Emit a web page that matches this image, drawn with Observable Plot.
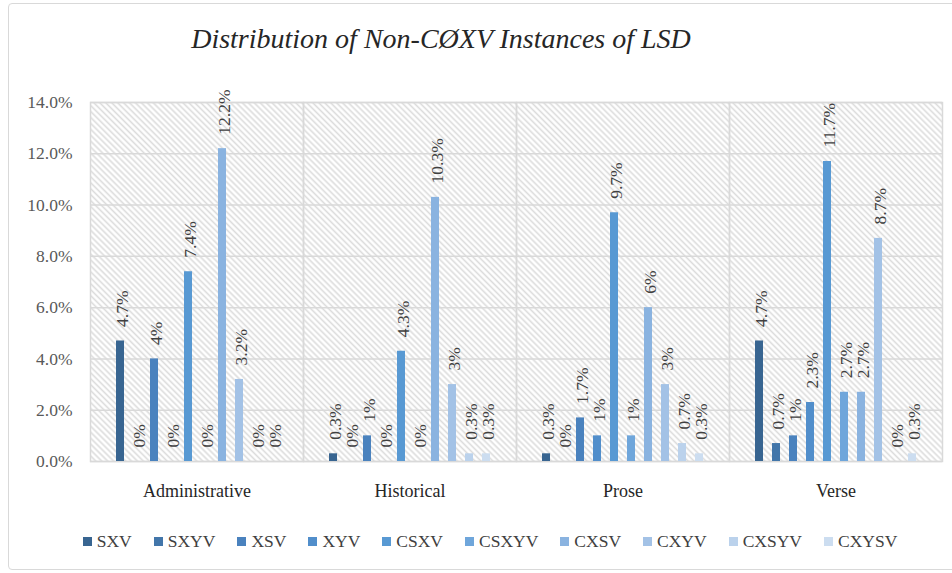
<!DOCTYPE html>
<html><head><meta charset="utf-8">
<script src="https://cdn.jsdelivr.net/npm/d3@7"></script>
<script src="https://cdn.jsdelivr.net/npm/@observablehq/plot@0.6"></script>
<style>
body{margin:0;background:#fff;}
#wrap{position:relative;width:952px;height:573px;overflow:hidden;font-family:'Liberation Serif','DejaVu Serif',serif;}
#border{position:absolute;left:8px;top:3px;width:960px;height:565px;border:1px solid #d9d9d9;border-radius:4px;}
#chart{position:absolute;left:0;top:0;}
#legend{position:absolute;top:531px;left:0;width:980px;display:flex;justify-content:center;align-items:center;font-size:17.5px;line-height:20px;color:#404040;}
.item{display:flex;align-items:center;margin:0 11px;}
.sw{width:9px;height:9px;margin-right:5px;}
</style></head>
<body><div id="wrap"><div id="border"></div><div id="chart"></div><div id="legend"></div></div>
<script>
const title = "Distribution of Non-CØXV Instances of LSD";
const categories = ["Administrative", "Historical", "Prose", "Verse"];
const series = ["SXV", "SXYV", "XSV", "XYV", "CSXV", "CSXYV", "CXSV", "CXYV", "CXSYV", "CXYSV"];
const administrative = [4.7, 0, 4, 0, 7.4, 0, 12.2, 3.2, 0, 0];
const historical = [0.3, 0, 1, 0, 4.3, 0, 10.3, 3, 0.3, 0.3];
const prose = [0.3, 0, 1.7, 1, 9.7, 1, 6, 3, 0.7, 0.3];
const verse = [4.7, 0.7, 1, 2.3, 11.7, 2.7, 2.7, 8.7, 0, 0.3];
const yTicks = [0, 2, 4, 6, 8, 10, 12, 14];
const colors = ["#386591", "#4276AA", "#4A82BE", "#518ECB", "#5899D3", "#6FA6DB", "#8AB3E0", "#A3C2E6", "#BBD2EC", "#CCDDF0"];

const valuesByCat = [administrative, historical, prose, verse];
const data = [];
categories.forEach((c, i) => series.forEach((s, j) => data.push({cat: c, series: s, value: valuesByCat[i][j]})));

const chart = Plot.plot({
  width: 952, height: 510,
  marginLeft: 90, marginRight: 10, marginTop: 102, marginBottom: 49,
  style: {fontFamily: "'Liberation Serif', 'DejaVu Serif', serif", background: "transparent"},
  fx: {domain: categories, padding: 0, label: null},
  x: {domain: series, paddingInner: 0.52, paddingOuter: 1.24, axis: null},
  y: {domain: [0, 14], axis: null},
  color: {domain: series, range: colors},
  marks: [
    Plot.frame({fill: "url(#hatch)"}),
    Plot.gridY(yTicks, {stroke: "#d9d9d9", strokeOpacity: 1, strokeWidth: 1.5}),
    Plot.frame({stroke: "#d9d9d9", strokeWidth: 1.5}),
    Plot.barY(data, {fx: "cat", x: "series", y: "value", fill: "series"}),
    Plot.text(data, {fx: "cat", x: "series", y: "value", text: d => d.value + "%", rotate: -90, textAnchor: "start", dy: -14, dx: 2, fontSize: 17.5, fill: "#404040"}),
    Plot.axisY(yTicks, {tickFormat: d => d.toFixed(1) + "%", tickSize: 0, tickPadding: 18, fontSize: 17.5, color: "#595959", label: null}),
    Plot.axisFx({anchor: "bottom", tickSize: 0, tickPadding: 23, fontSize: 18, color: "#262626", label: null})
  ]
});

const svg = d3.select(chart);
const defs = svg.insert("defs", ":first-child");
const pat = defs.append("pattern").attr("id", "hatch").attr("patternUnits", "userSpaceOnUse")
  .attr("width", 4.2).attr("height", 4.2).attr("patternTransform", "rotate(-45)");
pat.append("rect").attr("width", 4.2).attr("height", 4.2).attr("fill", "#ffffff");
pat.append("line").attr("x1", 2.1).attr("y1", 0).attr("x2", 2.1).attr("y2", 4.2).attr("stroke", "#dcdcdc").attr("stroke-width", 1.6);
svg.append("text").attr("x", 441).attr("y", 48).attr("text-anchor", "middle")
  .attr("font-size", 28).attr("font-style", "italic").attr("fill", "#262626").text(title);
document.getElementById("chart").appendChild(chart);

const legend = d3.select("#legend");
series.forEach((s, i) => {
  const it = legend.append("div").attr("class", "item");
  it.append("div").attr("class", "sw").style("background", colors[i]);
  it.append("span").text(s);
});
</script>
</body></html>
